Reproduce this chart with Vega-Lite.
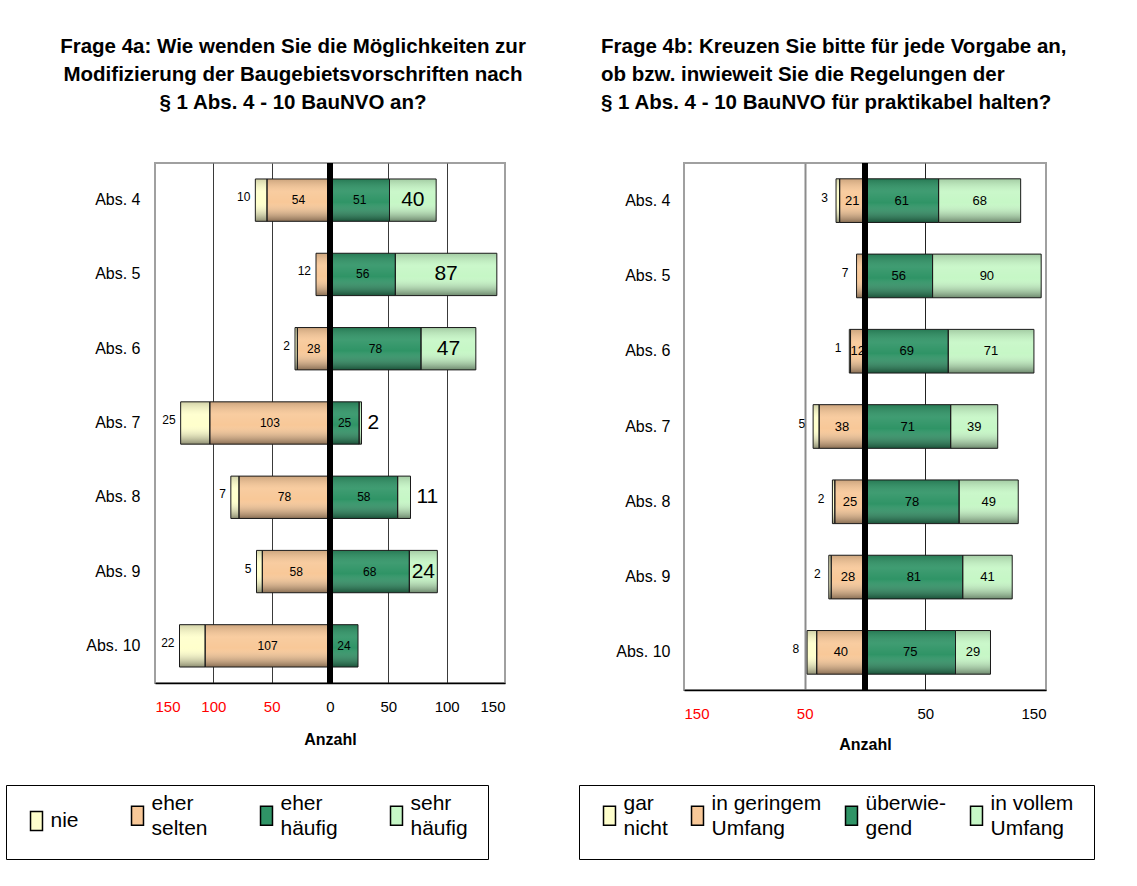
{
  "$schema": "https://vega.github.io/schema/vega-lite/v6.json",
  "autosize": {"type": "none"},
  "padding": {"left": 155, "top": 163, "right": 982, "bottom": 723},
  "background": "white",
  "config": {
    "font": "Liberation Sans",
    "view": {"stroke": "#a0a0a0", "strokeWidth": 2},
    "style": {"guide-label": {"lineHeight": 25}},
    "axis": {"labelFont": "Liberation Sans", "titleFont": "Liberation Sans", "labelColor": "black", "titleColor": "black"},
    "legend": {
      "labelFont": "Liberation Sans", "labelFontSize": 21, "labelColor": "black", "labelLimit": 0, "labelOffset": 3.5,
      "labelBaseline": {"expr": "indexof(datum.label, ' ') < 0 && datum.label != 'überwiegend' ? 'middle' : 'line-bottom'"},
      "symbolType": "M-0.63,-1H0.63V1H-0.63Z", "symbolSize": 361, "symbolStrokeColor": "black", "symbolStrokeWidth": 1.5,
      "strokeColor": "black", "fillColor": "white", "padding": 20, "direction": "horizontal", "columns": 4,
      "title": ".", "titleOrient": "right", "titleFontSize": 4, "titleColor": "white"
    }
  },
  "bounds": "flush",
  "spacing": 179,
  "resolve": {"scale": {"color": "independent", "x": "independent", "y": "independent"}, "legend": {"color": "independent"}},
  "hconcat": [
    {
      "width": 350,
      "height": 520,
      "title": {
        "text": ["Frage 4a: Wie wenden Sie die Möglichkeiten zur", "Modifizierung der Baugebietsvorschriften nach", "§ 1 Abs. 4 - 10 BauNVO an?"],
        "font": "Liberation Sans", "fontSize": 20.5, "fontWeight": "bold", "color": "black", "lineHeight": 28,
        "anchor": "middle", "frame": "group", "dx": -37, "offset": 47
      },
      "data": {"values": [
        {"item": "Abs. 4", "cat": "nie", "v": -10, "n": 10, "rank": 2},
        {"item": "Abs. 4", "cat": "eher selten", "v": -54, "n": 54, "rank": 1},
        {"item": "Abs. 4", "cat": "eher häufig", "v": 51, "n": 51, "rank": 1},
        {"item": "Abs. 4", "cat": "sehr häufig", "v": 40, "n": 40, "rank": 2},
        {"item": "Abs. 5", "cat": "eher selten", "v": -12, "n": 12, "rank": 1},
        {"item": "Abs. 5", "cat": "eher häufig", "v": 56, "n": 56, "rank": 1},
        {"item": "Abs. 5", "cat": "sehr häufig", "v": 87, "n": 87, "rank": 2},
        {"item": "Abs. 6", "cat": "nie", "v": -2, "n": 2, "rank": 2},
        {"item": "Abs. 6", "cat": "eher selten", "v": -28, "n": 28, "rank": 1},
        {"item": "Abs. 6", "cat": "eher häufig", "v": 78, "n": 78, "rank": 1},
        {"item": "Abs. 6", "cat": "sehr häufig", "v": 47, "n": 47, "rank": 2},
        {"item": "Abs. 7", "cat": "nie", "v": -25, "n": 25, "rank": 2},
        {"item": "Abs. 7", "cat": "eher selten", "v": -103, "n": 103, "rank": 1},
        {"item": "Abs. 7", "cat": "eher häufig", "v": 25, "n": 25, "rank": 1},
        {"item": "Abs. 7", "cat": "sehr häufig", "v": 2, "n": 2, "rank": 2},
        {"item": "Abs. 8", "cat": "nie", "v": -7, "n": 7, "rank": 2},
        {"item": "Abs. 8", "cat": "eher selten", "v": -78, "n": 78, "rank": 1},
        {"item": "Abs. 8", "cat": "eher häufig", "v": 58, "n": 58, "rank": 1},
        {"item": "Abs. 8", "cat": "sehr häufig", "v": 11, "n": 11, "rank": 2},
        {"item": "Abs. 9", "cat": "nie", "v": -5, "n": 5, "rank": 2},
        {"item": "Abs. 9", "cat": "eher selten", "v": -58, "n": 58, "rank": 1},
        {"item": "Abs. 9", "cat": "eher häufig", "v": 68, "n": 68, "rank": 1},
        {"item": "Abs. 9", "cat": "sehr häufig", "v": 24, "n": 24, "rank": 2},
        {"item": "Abs. 10", "cat": "nie", "v": -22, "n": 22, "rank": 2},
        {"item": "Abs. 10", "cat": "eher selten", "v": -107, "n": 107, "rank": 1},
        {"item": "Abs. 10", "cat": "eher häufig", "v": 24, "n": 24, "rank": 1}
      ]},
      "layer": [
        {
          "encoding": {
            "y": {
              "field": "item", "type": "nominal",
              "sort": ["Abs. 4", "Abs. 5", "Abs. 6", "Abs. 7", "Abs. 8", "Abs. 9", "Abs. 10"],
              "scale": {"paddingInner": 0.43, "paddingOuter": 0.215},
              "axis": {"title": null, "ticks": false, "domain": false, "labelFontSize": 16, "labelPadding": 15}
            }
          },
          "layer": [
            {
              "mark": {"type": "bar"},
              "encoding": {
                "x": {
                  "field": "v", "type": "quantitative", "stack": "zero", "title": "Anzahl",
                  "scale": {"domain": [-150, 150], "nice": false},
                  "axis": {
                    "values": [-150, -100, -50, 0, 50, 100, 150],
                    "labelExpr": "abs(datum.value)",
                    "labelColor": {"condition": {"test": "datum.value < 0", "value": "#ff0000"}, "value": "black"},
                    "labelFontSize": 15, "labelPadding": 16, "ticks": false,
                    "domainColor": "black", "domainWidth": 1.5,
                    "grid": true,
                    "gridColor": {"condition": {"test": "abs(datum.value) >= 150 || datum.value == 0", "value": "transparent"}, "value": "#3a3a3a"},
                    "gridWidth": 1,
                    "titleFontSize": 16, "titleFontWeight": "bold", "titlePadding": 17
                  }
                },
                "order": {"field": "rank", "type": "quantitative"},
                "color": {
                  "field": "cat", "type": "nominal",
                  "scale": {"domain": ["nie", "eher selten", "eher häufig", "sehr häufig"], "range": ["#FFFFCC", "#F8C898", "#2F9466", "#C6F7C6"]},
                  "legend": {"orient": "none", "legendX": -149, "legendY": 622, "columnPadding": 48, "titlePadding": 25,
                    "labelExpr": "indexof(datum.label, ' ') < 0 ? datum.label : [slice(datum.label, 0, lastindexof(datum.label, ' ')), slice(datum.label, lastindexof(datum.label, ' ') + 1)]"}
                }
              }
            },
            {
              "mark": {"type": "bar", "stroke": "#1a1a1a", "strokeWidth": 1,
                "fill": {"gradient": "linear", "x1": 0, "y1": 0, "x2": 0, "y2": 1,
                  "stops": [{"offset": 0, "color": "rgba(0,0,0,0.18)"}, {"offset": 0.3, "color": "rgba(255,255,255,0.08)"}, {"offset": 0.55, "color": "rgba(255,255,255,0)"}, {"offset": 1, "color": "rgba(0,0,0,0.45)"}]}},
              "encoding": {
                "x": {"field": "v", "type": "quantitative", "stack": "zero", "title": "Anzahl"},
                "detail": {"field": "cat"},
                "order": {"field": "rank", "type": "quantitative"}
              }
            },
            {
              "mark": {"type": "text", "fontSize": 12, "baseline": "middle", "align": "center", "color": "black"},
              "encoding": {
                "x": {"field": "v", "type": "quantitative", "stack": "zero", "bandPosition": 0.5, "title": "Anzahl"},
                "detail": {"field": "cat"},
                "order": {"field": "rank", "type": "quantitative"},
                "text": {"condition": {"test": "datum.rank == 1 && !(datum.item == 'Abs. 5' && datum.v < 0)", "field": "n", "type": "quantitative"}, "value": ""}
              }
            },
            {
              "mark": {"type": "text", "fontSize": 21, "baseline": "middle", "align": "center", "color": "black"},
              "encoding": {
                "x": {"field": "v", "type": "quantitative", "stack": "zero", "bandPosition": 0.5, "title": "Anzahl"},
                "detail": {"field": "cat"},
                "order": {"field": "rank", "type": "quantitative"},
                "text": {"condition": {"test": "datum.rank == 2 && datum.v > 0 && datum.n >= 20", "field": "n", "type": "quantitative"}, "value": ""}
              }
            },
            {
              "mark": {"type": "text", "fontSize": 12, "baseline": "middle", "align": "right", "dx": -5, "dy": -3, "color": "black"},
              "encoding": {
                "x": {"field": "v", "type": "quantitative", "stack": "zero", "title": "Anzahl"},
                "detail": {"field": "cat"},
                "order": {"field": "rank", "type": "quantitative"},
                "text": {"condition": {"test": "datum.v < 0 && (datum.rank == 2 || datum.item == 'Abs. 5')", "field": "n", "type": "quantitative"}, "value": ""}
              }
            },
            {
              "mark": {"type": "text", "fontSize": 21, "baseline": "middle", "align": "left", "dx": 6, "color": "black"},
              "encoding": {
                "x": {"field": "v", "type": "quantitative", "stack": "zero", "title": "Anzahl"},
                "detail": {"field": "cat"},
                "order": {"field": "rank", "type": "quantitative"},
                "text": {"condition": {"test": "datum.rank == 2 && datum.v > 0 && datum.n < 20", "field": "n", "type": "quantitative"}, "value": ""}
              }
            }
          ]
        },
        {
          "mark": {"type": "rule", "strokeWidth": 5, "color": "black"},
          "encoding": {"x": {"datum": 0, "title": "Anzahl"}}
        }
      ]
    },
    {
      "width": 362,
      "height": 527,
      "title": {
        "text": ["Frage 4b: Kreuzen Sie bitte für jede Vorgabe an,", "ob bzw. inwieweit Sie die Regelungen der", "§ 1 Abs. 4 - 10 BauNVO für praktikabel halten?"],
        "font": "Liberation Sans", "fontSize": 20.5, "fontWeight": "bold", "color": "black", "lineHeight": 28,
        "anchor": "start", "frame": "group", "dx": -83, "offset": 47
      },
      "data": {"values": [
        {"item": "Abs. 4", "cat": "gar nicht", "v": -3, "n": 3, "rank": 2},
        {"item": "Abs. 4", "cat": "in geringem Umfang", "v": -21, "n": 21, "rank": 1},
        {"item": "Abs. 4", "cat": "überwiegend", "v": 61, "n": 61, "rank": 1},
        {"item": "Abs. 4", "cat": "in vollem Umfang", "v": 68, "n": 68, "rank": 2},
        {"item": "Abs. 5", "cat": "in geringem Umfang", "v": -7, "n": 7, "rank": 1},
        {"item": "Abs. 5", "cat": "überwiegend", "v": 56, "n": 56, "rank": 1},
        {"item": "Abs. 5", "cat": "in vollem Umfang", "v": 90, "n": 90, "rank": 2},
        {"item": "Abs. 6", "cat": "gar nicht", "v": -1, "n": 1, "rank": 2},
        {"item": "Abs. 6", "cat": "in geringem Umfang", "v": -12, "n": 12, "rank": 1},
        {"item": "Abs. 6", "cat": "überwiegend", "v": 69, "n": 69, "rank": 1},
        {"item": "Abs. 6", "cat": "in vollem Umfang", "v": 71, "n": 71, "rank": 2},
        {"item": "Abs. 7", "cat": "gar nicht", "v": -5, "n": 5, "rank": 2},
        {"item": "Abs. 7", "cat": "in geringem Umfang", "v": -38, "n": 38, "rank": 1},
        {"item": "Abs. 7", "cat": "überwiegend", "v": 71, "n": 71, "rank": 1},
        {"item": "Abs. 7", "cat": "in vollem Umfang", "v": 39, "n": 39, "rank": 2},
        {"item": "Abs. 8", "cat": "gar nicht", "v": -2, "n": 2, "rank": 2},
        {"item": "Abs. 8", "cat": "in geringem Umfang", "v": -25, "n": 25, "rank": 1},
        {"item": "Abs. 8", "cat": "überwiegend", "v": 78, "n": 78, "rank": 1},
        {"item": "Abs. 8", "cat": "in vollem Umfang", "v": 49, "n": 49, "rank": 2},
        {"item": "Abs. 9", "cat": "gar nicht", "v": -2, "n": 2, "rank": 2},
        {"item": "Abs. 9", "cat": "in geringem Umfang", "v": -28, "n": 28, "rank": 1},
        {"item": "Abs. 9", "cat": "überwiegend", "v": 81, "n": 81, "rank": 1},
        {"item": "Abs. 9", "cat": "in vollem Umfang", "v": 41, "n": 41, "rank": 2},
        {"item": "Abs. 10", "cat": "gar nicht", "v": -8, "n": 8, "rank": 2},
        {"item": "Abs. 10", "cat": "in geringem Umfang", "v": -40, "n": 40, "rank": 1},
        {"item": "Abs. 10", "cat": "überwiegend", "v": 75, "n": 75, "rank": 1},
        {"item": "Abs. 10", "cat": "in vollem Umfang", "v": 29, "n": 29, "rank": 2}
      ]},
      "layer": [
        {
          "encoding": {
            "y": {
              "field": "item", "type": "nominal",
              "sort": ["Abs. 4", "Abs. 5", "Abs. 6", "Abs. 7", "Abs. 8", "Abs. 9", "Abs. 10"],
              "scale": {"paddingInner": 0.42, "paddingOuter": 0.21},
              "axis": {"title": null, "ticks": false, "domain": false, "labelFontSize": 16, "labelPadding": 14}
            }
          },
          "layer": [
            {
              "mark": {"type": "bar"},
              "encoding": {
                "x": {
                  "field": "v", "type": "quantitative", "stack": "zero", "title": "Anzahl",
                  "scale": {"domain": [-150, 150], "nice": false},
                  "axis": {
                    "values": [-150, -50, 50, 150],
                    "labelExpr": "abs(datum.value)",
                    "labelColor": {"condition": {"test": "datum.value < 0", "value": "#ff0000"}, "value": "black"},
                    "labelFontSize": 15, "labelPadding": 16, "ticks": false,
                    "domainColor": "black", "domainWidth": 1.5,
                    "grid": true,
                    "gridColor": {"condition": [{"test": "abs(datum.value) >= 150", "value": "transparent"}, {"test": "datum.value < 0", "value": "#8c8c8c"}], "value": "#222222"},
                    "gridWidth": {"condition": {"test": "datum.value < 0", "value": 2}, "value": 1},
                    "titleFontSize": 16, "titleFontWeight": "bold", "titlePadding": 15
                  }
                },
                "order": {"field": "rank", "type": "quantitative"},
                "color": {
                  "field": "cat", "type": "nominal",
                  "scale": {"domain": ["gar nicht", "in geringem Umfang", "überwiegend", "in vollem Umfang"], "range": ["#FFFFCC", "#F8C898", "#2F9466", "#C6F7C6"]},
                  "legend": {"orient": "none", "legendX": -105, "legendY": 622, "columnPadding": 19, "titlePadding": 27,
                    "labelExpr": "datum.label == 'überwiegend' ? ['überwie-', 'gend'] : [slice(datum.label, 0, lastindexof(datum.label, ' ')), slice(datum.label, lastindexof(datum.label, ' ') + 1)]"}
                }
              }
            },
            {
              "mark": {"type": "bar", "stroke": "#1a1a1a", "strokeWidth": 1,
                "fill": {"gradient": "linear", "x1": 0, "y1": 0, "x2": 0, "y2": 1,
                  "stops": [{"offset": 0, "color": "rgba(0,0,0,0.18)"}, {"offset": 0.3, "color": "rgba(255,255,255,0.08)"}, {"offset": 0.55, "color": "rgba(255,255,255,0)"}, {"offset": 1, "color": "rgba(0,0,0,0.45)"}]}},
              "encoding": {
                "x": {"field": "v", "type": "quantitative", "stack": "zero", "title": "Anzahl"},
                "detail": {"field": "cat"},
                "order": {"field": "rank", "type": "quantitative"}
              }
            },
            {
              "mark": {"type": "text", "fontSize": 13, "baseline": "middle", "align": "center", "color": "black"},
              "encoding": {
                "x": {"field": "v", "type": "quantitative", "stack": "zero", "bandPosition": 0.5, "title": "Anzahl"},
                "detail": {"field": "cat"},
                "order": {"field": "rank", "type": "quantitative"},
                "text": {"condition": {"test": "!(datum.v < 0 && (datum.rank == 2 || datum.item == 'Abs. 5'))", "field": "n", "type": "quantitative"}, "value": ""}
              }
            },
            {
              "mark": {"type": "text", "fontSize": 12, "baseline": "middle", "align": "right", "dx": -8, "dy": -3, "color": "black"},
              "encoding": {
                "x": {"field": "v", "type": "quantitative", "stack": "zero", "title": "Anzahl"},
                "detail": {"field": "cat"},
                "order": {"field": "rank", "type": "quantitative"},
                "text": {"condition": {"test": "datum.v < 0 && (datum.rank == 2 || datum.item == 'Abs. 5')", "field": "n", "type": "quantitative"}, "value": ""}
              }
            }
          ]
        },
        {
          "mark": {"type": "rule", "strokeWidth": 5, "color": "black"},
          "encoding": {"x": {"datum": 0, "title": "Anzahl"}}
        }
      ]
    }
  ]
}
